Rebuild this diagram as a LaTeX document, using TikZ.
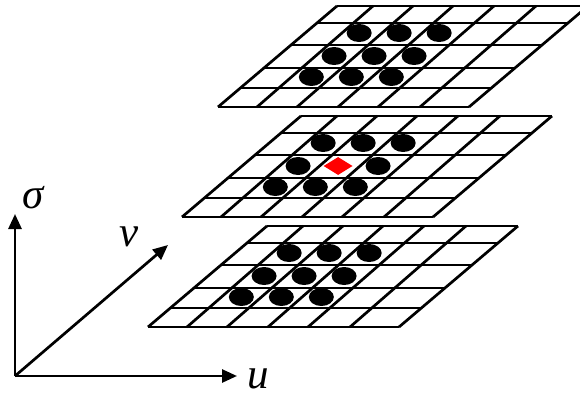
\documentclass[tikz,border=0pt]{standalone}
\usepackage{fontspec}
\setmainfont{Liberation Serif}
\usetikzlibrary{
  arrows.meta,
  shapes.geometric
}
\tikzset{
  gridline/.style={line width=2.7pt},
  featdot/.style={ellipse, fill=black, inner sep=0pt,
    minimum width=25pt, minimum height=18pt},
  keypt/.style={diamond, fill=red, inner sep=0pt,
    minimum width=29pt, minimum height=18pt},
  axis/.style={line width=2.7pt, -{Triangle[length=15pt,width=13pt]}},
  axlabel/.style={font=\fontsize{43}{47}\selectfont\itshape, inner sep=0pt},
}

\begin{document}
\begin{tikzpicture}[x=1pt, y=-1pt]
  \useasboundingbox (0,0) rectangle (580,398);
  \clip (0,0) rectangle (580,398);

  % scale levels: low, mid (with keypoint), top
  \foreach \name/\bx/\by/\key in {low/148/327/0, mid/182/217/1, top/218/107/0} {
    \begin{scope}[shift={(\bx,\by)}, xslant=1.178]
      \foreach \h in {0,19,39,62,84,101}
        \draw[gridline] (0,-\h) -- (251,-\h);
      \foreach \a/\b in {0/0,39/36,79/76,120/116,160/157,202/199,251/251}
        \draw[gridline] (\a,0) -- (\b,-101);
      % neighbours
      \foreach \h/\dx [count=\i] in {30/-1,51/-3,74/-5}
        \foreach \a [count=\j] in {59,99,139} {
          \ifnum\numexpr\key*\i*\j\relax=4
            \node[keypt] (\name-\i-\j) at (\a+\dx,-\h) {};
          \else
            \node[featdot] (\name-\i-\j) at (\a+\dx,-\h) {};
          \fi
        }
    \end{scope}
  }

  % axes
  \coordinate (origin) at (15,376);
  \coordinate (sigtip) at (15,214);
  \coordinate (utip) at (237,376);
  \coordinate (vtip) at (168,245);
  \draw[axis] (origin) -- (sigtip);
  \draw[axis] (origin) -- (utip);
  \draw[axis] (origin) -- (vtip);

  \node[axlabel] (sig) at (33,198) {σ};
  \node[axlabel] (vlab) at (129,237) {v};
  \node[axlabel] (ulab) at (258,379) {u};
\end{tikzpicture}
\end{document}
